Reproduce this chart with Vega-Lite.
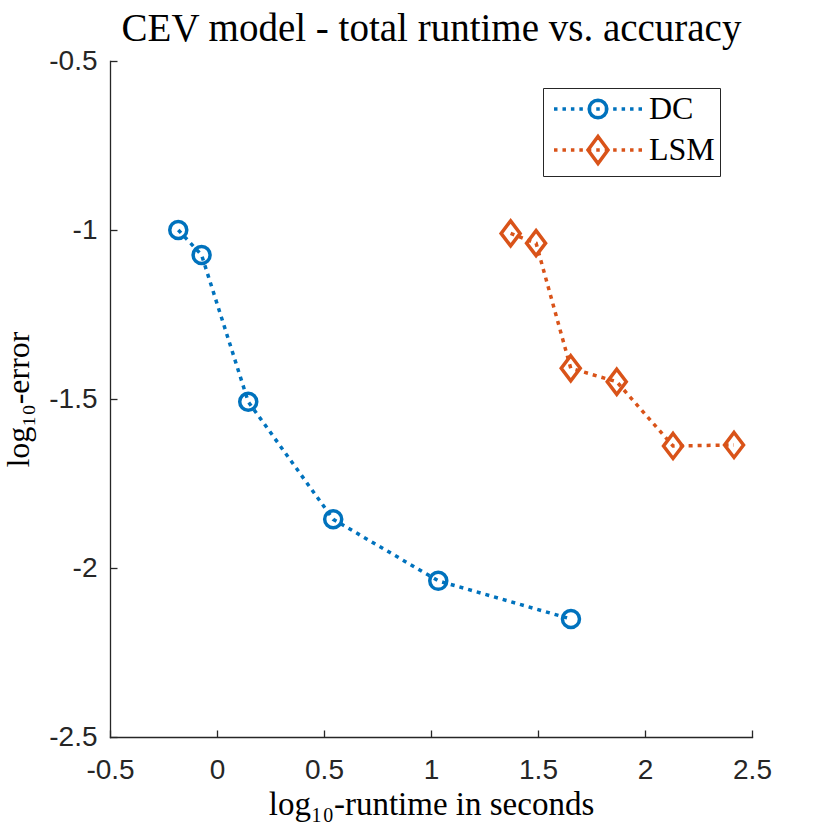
{
  "$schema": "https://vega.github.io/schema/vega-lite/v6.json",
  "width": 642,
  "height": 676,
  "autosize": {"type": "none"},
  "padding": {"left": 110, "top": 61, "right": 78, "bottom": 93},
  "background": "white",
  "data": {
    "values": [
      {"method": "DC", "runtime": -0.181, "error": -1.000},
      {"method": "DC", "runtime": -0.072, "error": -1.074},
      {"method": "DC", "runtime": 0.146, "error": -1.508},
      {"method": "DC", "runtime": 0.543, "error": -1.856},
      {"method": "DC", "runtime": 1.034, "error": -2.038},
      {"method": "DC", "runtime": 1.654, "error": -2.151},
      {"method": "LSM", "runtime": 1.372, "error": -1.010},
      {"method": "LSM", "runtime": 1.491, "error": -1.039},
      {"method": "LSM", "runtime": 1.653, "error": -1.409},
      {"method": "LSM", "runtime": 1.868, "error": -1.449},
      {"method": "LSM", "runtime": 2.131, "error": -1.639},
      {"method": "LSM", "runtime": 2.416, "error": -1.636}
    ]
  },
  "encoding": {
    "x": {
      "field": "runtime",
      "type": "quantitative",
      "scale": {"domain": [-0.5, 2.5], "nice": false, "zero": false},
      "axis": null
    },
    "y": {
      "field": "error",
      "type": "quantitative",
      "scale": {"domain": [-2.5, -0.5], "nice": false, "zero": false},
      "axis": {
        "title": "log₁₀-error",
        "titleFont": "Liberation Serif",
        "titleFontSize": 32,
        "titleFontWeight": "normal",
        "titleColor": "black",
        "titlePadding": 13,
        "values": [-2.5, -2, -1.5, -1, -0.5],
        "labelExpr": "'' + datum.value",
        "labelFont": "Liberation Sans",
        "labelFontSize": 28,
        "labelColor": "#262626",
        "labelPadding": 20,
        "labelFlush": false,
        "labelOverlap": false,
        "tickSize": -7,
        "tickColor": "#262626",
        "tickWidth": 1.3,
        "domainColor": "#262626",
        "domainWidth": 1.3,
        "grid": false
      }
    }
  },
  "layer": [
    {
      "transform": [{"filter": "datum.method == 'DC'"}],
      "mark": {"type": "line", "color": "#0072BD", "strokeWidth": 3.5, "strokeDash": [4, 5], "strokeCap": "butt"},
      "encoding": {
        "x": {
          "field": "runtime",
          "type": "quantitative",
          "scale": {"domain": [-0.5, 2.5], "nice": false, "zero": false},
          "axis": {
            "title": "log₁₀-runtime in seconds",
            "titleFont": "Liberation Serif",
            "titleFontSize": 33,
            "titleFontWeight": "normal",
            "titleColor": "black",
            "titlePadding": 4,
            "values": [-0.5, 0, 0.5, 1, 1.5, 2, 2.5],
            "labelExpr": "'' + datum.value",
            "labelFont": "Liberation Sans",
            "labelFontSize": 28,
            "labelColor": "#262626",
            "labelPadding": 26,
            "labelFlush": false,
            "labelOverlap": false,
            "tickSize": -7,
            "tickColor": "#262626",
            "tickWidth": 1.3,
            "domainColor": "#262626",
            "domainWidth": 1.3,
            "grid": false
          }
        }
      }
    },
    {
      "transform": [{"filter": "datum.method == 'LSM'"}],
      "mark": {"type": "line", "color": "#D95319", "strokeWidth": 3.5, "strokeDash": [4, 5], "strokeCap": "butt"}
    },
    {
      "transform": [{"filter": "datum.method == 'DC'"}],
      "mark": {"type": "point", "shape": "circle", "filled": false, "color": "#0072BD", "size": 290, "strokeWidth": 3.5, "opacity": 1}
    },
    {
      "transform": [{"filter": "datum.method == 'LSM'"}],
      "mark": {"type": "point", "shape": "M0,-1L0.76,0L0,1L-0.76,0Z", "filled": false, "color": "#D95319", "size": 625, "strokeWidth": 3.5, "opacity": 1}
    },
    {
      "transform": [{"filter": "datum.method == 'none'"}],
      "mark": {"type": "point", "filled": false, "opacity": 1, "strokeWidth": 3.5},
      "encoding": {
        "x": {
          "field": "runtime",
          "type": "quantitative",
          "scale": {"domain": [-0.5, 2.5], "nice": false, "zero": false},
          "axis": {
            "orient": "top",
            "title": "CEV model - total runtime vs. accuracy",
            "titleFont": "Liberation Serif",
            "titleFontSize": 39,
            "titleFontWeight": "normal",
            "titleColor": "black",
            "titlePadding": 13,
            "domain": false,
            "ticks": false,
            "labels": false,
            "grid": false
          }
        },
        "color": {
          "field": "method",
          "type": "nominal",
          "scale": {"domain": ["DC", "LSM"], "range": ["#0072BD", "#D95319"]},
          "legend": {
            "title": null,
            "orient": "none",
            "legendX": 433,
            "legendY": 27,
            "padding": 5,
            "strokeColor": "#262626",
            "fillColor": "white",
            "labelFont": "Liberation Serif",
            "labelFontSize": 32,
            "labelColor": "black",
            "labelOffset": 35,
            "symbolOffset": 34,
            "rowPadding": 4,
            "symbolSize": 784,
            "symbolStrokeWidth": 3.5,
            "symbolOpacity": 1
          }
        },
        "shape": {
          "field": "method",
          "type": "nominal",
          "scale": {
            "domain": ["DC", "LSM"],
            "range": [
              "M-3.143,0H-2.893M-2.539,0H-2.289M-1.936,0H-1.686M-1.332,0H-1.082M-0.729,0H-0.479M-0.125,0H0.125M0.479,0H0.729M1.082,0H1.332M1.686,0H1.936M2.289,0H2.539M2.893,0H3.143M0.629,0L0.581,0.241L0.445,0.445L0.241,0.581L0,0.629L-0.241,0.581L-0.445,0.445L-0.581,0.241L-0.629,0L-0.581,-0.241L-0.445,-0.445L-0.241,-0.581L0,-0.629L0.241,-0.581L0.445,-0.445L0.581,-0.241Z",
              "M-3.143,0H-2.893M-2.539,0H-2.289M-1.936,0H-1.686M-1.332,0H-1.082M-0.729,0H-0.479M-0.125,0H0.125M0.479,0H0.729M1.082,0H1.332M1.686,0H1.936M2.289,0H2.539M2.893,0H3.143M0,-0.964L0.714,0L0,0.964L-0.714,0Z"
            ]
          },
          "legend": {
            "title": null,
            "orient": "none",
            "legendX": 433,
            "legendY": 27,
            "padding": 5,
            "strokeColor": "#262626",
            "fillColor": "white",
            "labelFont": "Liberation Serif",
            "labelFontSize": 32,
            "labelColor": "black",
            "labelOffset": 35,
            "symbolOffset": 34,
            "rowPadding": 4,
            "symbolSize": 784,
            "symbolStrokeWidth": 3.5,
            "symbolOpacity": 1
          }
        }
      }
    }
  ],
  "resolve": {"axis": {"x": "independent"}},
  "config": {
    "view": {"stroke": null},
    "axis": {"domainCap": "square"}
  }
}
